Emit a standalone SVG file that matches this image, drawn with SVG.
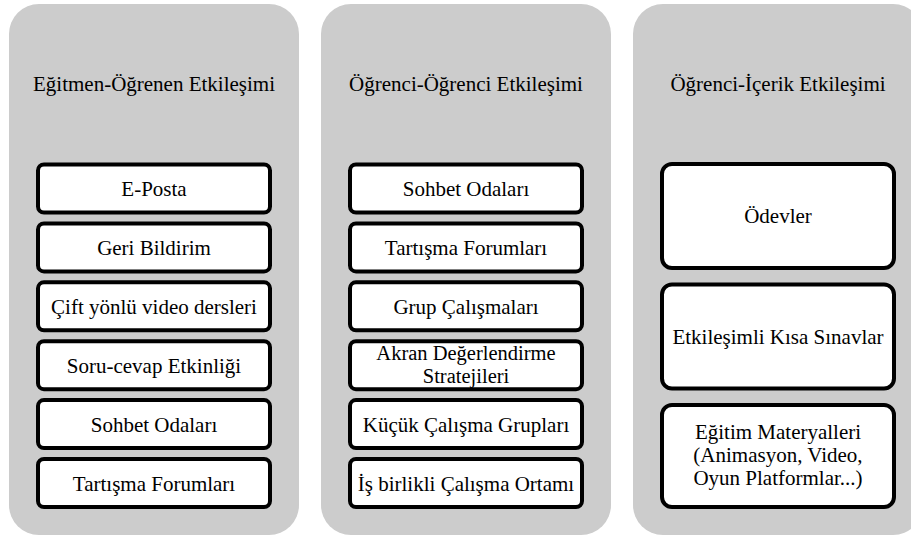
<svg xmlns="http://www.w3.org/2000/svg" width="911" height="536" viewBox="0 0 911 536">
<style>
.panel{fill:#cccccc;stroke:none}
.box{fill:#ffffff;stroke:#000000;stroke-width:4}
.t{font-family:'Liberation Serif','Times New Roman',serif;font-size:21px;fill:#000000;text-anchor:middle}
.s{font-size:20.5px}
</style>
<rect width="911" height="536" fill="#ffffff"/>
<g id="panel-egitmen">
<rect class="panel" x="9" y="4" width="290" height="531" rx="30" ry="30"/>
<text class="t" x="154" y="91">Eğitmen-Öğrenen Etkileşimi</text>
</g>
<g id="panel-ogrenci">
<rect class="panel" x="321" y="4" width="290" height="531" rx="30" ry="30"/>
<text class="t" x="466" y="91">Öğrenci-Öğrenci Etkileşimi</text>
</g>
<g id="panel-icerik">
<rect class="panel" x="633" y="4" width="290" height="531" rx="30" ry="30"/>
<text class="t" x="778" y="91">Öğrenci-İçerik Etkileşimi</text>
</g>
<g id="e1"><rect class="box" x="38" y="164.5" width="232" height="48" rx="6"/><text class="t" x="154" y="196">E-Posta</text></g>
<g id="e2"><rect class="box" x="38" y="223.4" width="232" height="48" rx="6"/><text class="t" x="154" y="254.9">Geri Bildirim</text></g>
<g id="e3"><rect class="box" x="38" y="282.3" width="232" height="48" rx="6"/><text class="t" x="154" y="313.8">Çift yönlü video dersleri</text></g>
<g id="e4"><rect class="box" x="38" y="341.2" width="232" height="48" rx="6"/><text class="t" x="154" y="372.7">Soru-cevap Etkinliği</text></g>
<g id="e5"><rect class="box" x="38" y="400.1" width="232" height="48" rx="6"/><text class="t" x="154" y="431.6">Sohbet Odaları</text></g>
<g id="e6"><rect class="box" x="38" y="459" width="232" height="48" rx="6"/><text class="t" x="154" y="490.5">Tartışma Forumları</text></g>
<g id="o1"><rect class="box" x="350" y="164.5" width="232" height="48" rx="6"/><text class="t" x="466" y="196">Sohbet Odaları</text></g>
<g id="o2"><rect class="box" x="350" y="223.4" width="232" height="48" rx="6"/><text class="t" x="466" y="254.9">Tartışma Forumları</text></g>
<g id="o3"><rect class="box" x="350" y="282.3" width="232" height="48" rx="6"/><text class="t" x="466" y="313.8">Grup Çalışmaları</text></g>
<g id="o4"><rect class="box" x="350" y="341.2" width="232" height="48" rx="6"/><text class="t s" x="466" y="359.8">Akran Değerlendirme</text><text class="t s" x="466" y="382.7">Stratejileri</text></g>
<g id="o5"><rect class="box" x="350" y="400.1" width="232" height="48" rx="6"/><text class="t" x="466" y="431.6">Küçük Çalışma Grupları</text></g>
<g id="o6"><rect class="box" x="350" y="459" width="232" height="48" rx="6"/><text class="t" x="466" y="490.5">İş birlikli Çalışma Ortamı</text></g>
<g id="i1"><rect class="box" x="662" y="164" width="232" height="104" rx="10"/><text class="t" x="778" y="223.3">Ödevler</text></g>
<g id="i2"><rect class="box" x="662" y="284.5" width="232" height="104" rx="10"/><text class="t" x="778" y="343.5">Etkileşimli Kısa Sınavlar</text></g>
<g id="i3"><rect class="box" x="662" y="405" width="232" height="102" rx="10"/><text class="t" x="778" y="438.6">Eğitim Materyalleri</text><text class="t" x="778" y="462">(Animasyon, Video,</text><text class="t" x="778" y="485.4">Oyun Platformlar...)</text></g>
<g id="connectors"></g>
</svg>
